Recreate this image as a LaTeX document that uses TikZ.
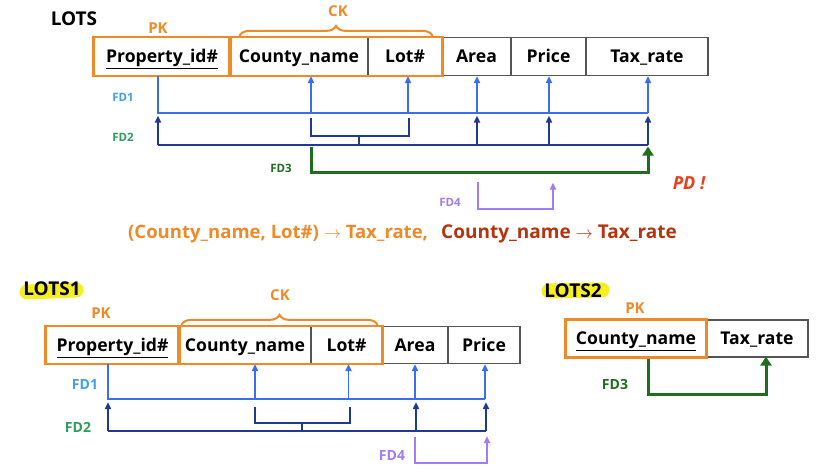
\documentclass[tikz,border=0pt]{standalone}
\usepackage{fontspec}
\setmainfont{Open Sans}
\usetikzlibrary{arrows.meta,decorations.pathreplacing,calc}
\definecolor{cellgray}{HTML}{555555}
\definecolor{korange}{HTML}{EE8A28}
\definecolor{fdoneline}{HTML}{3A6EF0}
\definecolor{fdonelab}{HTML}{3FA0E6}
\definecolor{fdtwoline}{HTML}{1F3A93}
\definecolor{fdtwolab}{HTML}{2E9E5E}
\definecolor{fdthree}{HTML}{1F6E1F}
\definecolor{fdfour}{HTML}{A07CF8}
\definecolor{pdred}{HTML}{E8401C}
\definecolor{darkred}{HTML}{B5330F}
\definecolor{hilite}{HTML}{F5EE20}
\begin{document}
\begin{tikzpicture}[x=1pt,y=-1pt,
  cell/.style={draw=cellgray, line width=1.2pt, minimum height=38pt, inner sep=0pt,
    font=\bfseries\fontsize{17.6}{20}\selectfont, text height=12.5pt, text depth=0pt},
  cellb/.style={cell, minimum height=37pt},
  keybox/.style={draw=korange, line width=2.6pt},
  keylab/.style={text=korange, font=\bfseries\fontsize{15}{18}\selectfont, inner sep=0pt},
  brc/.style={draw=korange, line width=2pt, decorate, decoration={brace, amplitude=10pt}},
  tip/.style={-{Triangle[width=6pt,length=7pt]}},
  fdone/.style={draw=fdoneline, line width=1.9pt},
  fdtwo/.style={draw=fdtwoline, line width=1.9pt},
  fdthreel/.style={draw=fdthree, line width=3pt},
  fdfourl/.style={draw=fdfour, line width=1.9pt},
  toplab/.style={font=\bfseries\fontsize{11.5}{14}\selectfont, inner sep=0pt},
  botlab/.style={font=\bfseries\fontsize{14}{17}\selectfont, inner sep=0pt},
  rel/.style={font=\bfseries\fontsize{19}{22}\selectfont, inner sep=0pt},
]
\useasboundingbox (0,0) rectangle (823,470);

% ================= LOTS =================
\node[rel] (lots) at (74,19) {LOTS};
\node[cell, minimum width=136pt] (pid) at (162,56.5) {\underline{Property\_id\#}};
\node[cell, minimum width=138pt] (cn) at (299,56.5) {County\_name};
\node[cell, minimum width=74pt] (lot) at (405,56.5) {Lot\#};
\node[cell, minimum width=69pt] (area) at (476.5,56.5) {Area};
\node[cell, minimum width=75pt] (price) at (548.5,56.5) {Price};
\node[cell, minimum width=122pt] (tax) at (647,56.5) {Tax\_rate};
\draw[keybox] (pid.north west) rectangle (pid.south east);
\draw[keybox] (cn.north west) rectangle (lot.south east);
\node[keylab] (pk) at (158,28) {PK};
\draw[brc] ([xshift=10pt,yshift=1pt]cn.north west) -- ([xshift=-10pt,yshift=1pt]lot.north east);
\node[keylab] (ck) at (338,11) {CK};

% FD1
\node[toplab, text=fdonelab] (fd1) at (123,97) {FD1};
\draw[fdone] ([xshift=-4pt]pid.south) -- ($(pid.south)+(-4,36.5)$) -- ($(tax.south)+(1,36.5)$);
\draw[fdone,tip] ($(tax.south)+(1,36.5)$) -- ([xshift=1pt]tax.south);
\draw[fdone,tip] ($(cn.south)+(12,36.5)$) -- ([xshift=12pt]cn.south);
\draw[fdone,tip] ($(lot.south)+(3,36.5)$) -- ([xshift=3pt]lot.south);
\draw[fdone,tip] ($(area.south)+(0.5,36.5)$) -- ([xshift=0.5pt]area.south);
\draw[fdone,tip] ($(price.south)+(0.5,36.5)$) -- ([xshift=0.5pt]price.south);

% FD2
\node[toplab, text=fdtwolab] (fd2) at (123,137) {FD2};
\draw[fdtwo] ($(cn.south)+(12,41.5)$) -- ($(cn.south)+(12,59.5)$) -- ($(lot.south)+(4,59.5)$) -- ($(lot.south)+(4,41.5)$);
\draw[fdtwo] (359,135) -- (359,144);
\draw[fdtwo] ($(pid.south)+(-4,68.5)$) -- ($(tax.south)+(1,68.5)$);
\draw[fdtwo,tip] ($(pid.south)+(-4,68.5)$) -- ($(pid.south)+(-4,39.5)$);
\draw[fdtwo,tip] ($(area.south)+(0.5,68.5)$) -- ($(area.south)+(0.5,39.5)$);
\draw[fdtwo,tip] ($(price.south)+(0.5,68.5)$) -- ($(price.south)+(0.5,39.5)$);
\draw[fdtwo,tip] ($(tax.south)+(1,68.5)$) -- ($(tax.south)+(1,39.5)$);

% FD3
\node[toplab, text=fdthree] (fd3) at (281,168) {FD3};
\draw[fdthreel, -{Triangle[width=11pt,length=9pt]}] ($(cn.south)+(12,70.5)$) -- ($(cn.south)+(12,96.5)$) -- ($(tax.south)+(1,96.5)$) -- ($(tax.south)+(1,70.5)$);
\node[font=\bfseries\itshape\fontsize{18}{21}\selectfont, text=pdred, inner sep=0pt] (pd) at (689,183) {PD !};

% FD4
\node[toplab, text=fdfour] (fd4) at (450,202) {FD4};
\draw[fdfourl, tip] ($(area.south)+(1.5,105.5)$) -- ($(area.south)+(1.5,132.5)$) -- ($(price.south)+(4.5,132.5)$) -- ($(price.south)+(4.5,106.5)$);

% formula
\node[font=\bfseries\fontsize{18.5}{22}\selectfont, inner sep=0pt, text=korange, anchor=west] (f1) at (128,234) {(County\_name, Lot\#) $\rightarrow$ Tax\_rate,};
\node[rel, text=darkred, anchor=west] (f2) at (441,234) {County\_name $\rightarrow$ Tax\_rate};

% ================= LOTS1 =================
\draw[hilite, line width=15pt, line cap=round] (27,292) -- (76,290);
\node[rel] (lots1) at (52,289) {LOTS1};
\node[cellb, minimum width=133pt] (pidb) at (112.5,345) {\underline{Property\_id\#}};
\node[cellb, minimum width=132pt] (cnb) at (245,345) {County\_name};
\node[cellb, minimum width=71pt] (lotb) at (346.5,345) {Lot\#};
\node[cellb, minimum width=66pt] (areab) at (415,345) {Area};
\node[cellb, minimum width=72pt] (priceb) at (484,345) {Price};
\draw[keybox] (pidb.north west) rectangle (pidb.south east);
\draw[keybox] (cnb.north west) rectangle (lotb.south east);
\node[keylab] (pkb) at (101,313) {PK};
\draw[brc] ([xshift=3pt,yshift=1pt]cnb.north west) -- ([xshift=-5pt,yshift=1pt]lotb.north east);
\node[keylab] (ckb) at (280,295) {CK};

% FD1
\node[botlab, text=fdonelab] (fd1b) at (85,385) {FD1};
\draw[fdone] ([xshift=-4.5pt]pidb.south) -- ($(pidb.south)+(-4.5,35)$) -- ($(priceb.south)+(1,35)$);
\draw[fdone,tip] ($(priceb.south)+(1,35)$) -- ([xshift=1pt]priceb.south);
\draw[fdone,tip] ($(cnb.south)+(10,35)$) -- ([xshift=10pt]cnb.south);
\draw[fdone,tip] ($(lotb.south)+(2,35)$) -- ([xshift=2pt]lotb.south);
\draw[fdone,tip] ($(areab.south)+(0,35)$) -- (areab.south);

% FD2
\node[botlab, text=fdtwolab] (fd2b) at (78,427) {FD2};
\draw[fdtwo] ($(cnb.south)+(10,43)$) -- ($(cnb.south)+(10,59)$) -- ($(lotb.south)+(3.5,59)$) -- ($(lotb.south)+(3.5,43)$);
\draw[fdtwo] (302,423) -- (302,431);
\draw[fdtwo] ($(pidb.south)+(-4.5,67)$) -- ($(priceb.south)+(2,67)$);
\draw[fdtwo,tip] ($(pidb.south)+(-4.5,67)$) -- ($(pidb.south)+(-4.5,38)$);
\draw[fdtwo,tip] ($(areab.south)+(1,67)$) -- ($(areab.south)+(1,38)$);
\draw[fdtwo,tip] ($(priceb.south)+(2,67)$) -- ($(priceb.south)+(2,38)$);

% FD4
\node[botlab, text=fdfour] (fd4b) at (392,456) {FD4};
\draw[fdfourl, tip] ($(areab.south)+(0,73)$) -- ($(areab.south)+(0,99)$) -- ($(priceb.south)+(3,99)$) -- ($(priceb.south)+(3,72)$);

% ================= LOTS2 =================
\draw[hilite, line width=15pt, line cap=round] (549,291) -- (602,290);
\node[rel] (lots2) at (573,291) {LOTS2};
\node[cellb, minimum width=140pt] (cnc) at (636,338.5) {\underline{County\_name}};
\node[cellb, minimum width=102pt] (taxc) at (757,338.5) {Tax\_rate};
\draw[keybox] (cnc.north west) rectangle (cnc.south east);
\node[keylab] (pkc) at (635,308) {PK};
\node[botlab, text=fdthree] (fd3c) at (615,385) {FD3};
\draw[fdthreel, -{Triangle[width=11pt,length=9pt]}] ($(cnc.south)+(12,1)$) -- ($(cnc.south)+(12,37)$) -- ($(taxc.south)+(9,37)$) -- ([xshift=9pt,yshift=1pt]taxc.south);
\end{tikzpicture}
\end{document}
